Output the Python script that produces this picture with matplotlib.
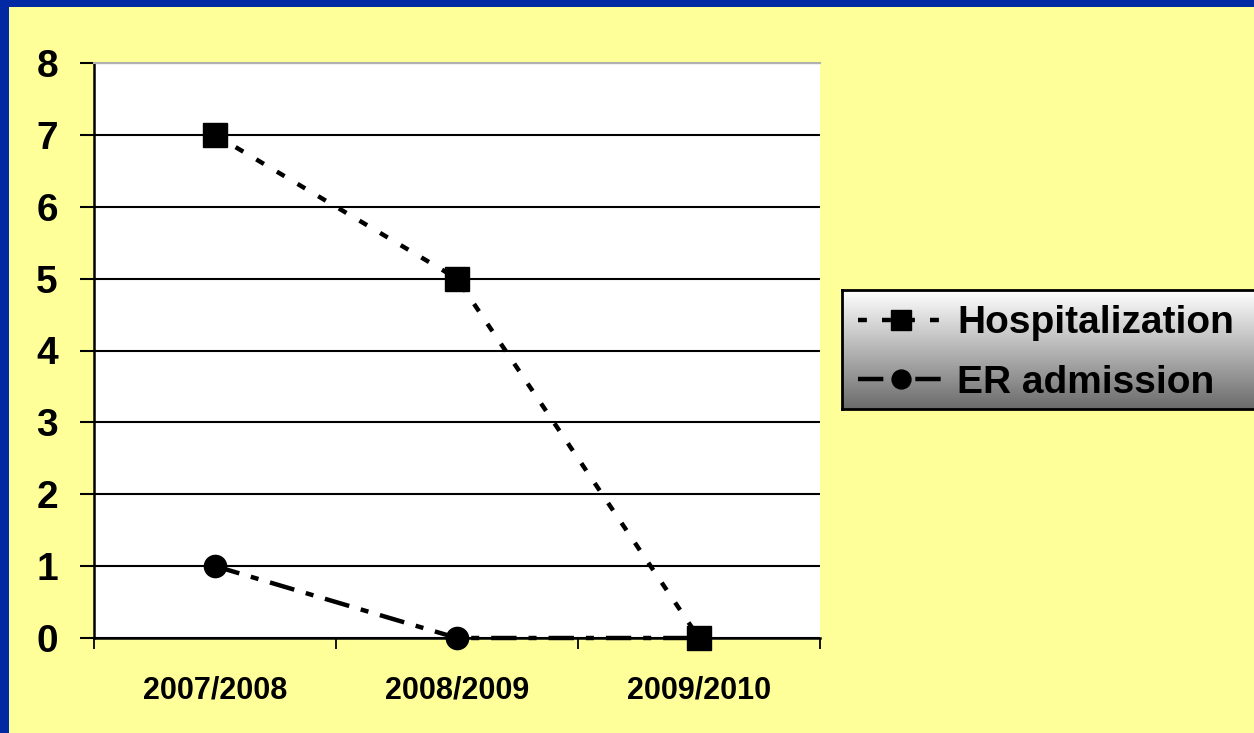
import numpy as np
import matplotlib
matplotlib.use('Agg')
from matplotlib import pyplot as plt
from matplotlib.patches import Rectangle
from matplotlib.ticker import FixedLocator

#
# Data
#
seasons = ['2007/2008', '2008/2009', '2009/2010']
hospitalization = [7, 5, 0]
er_admission = [1, 0, 0]
y_ticks = [0, 1, 2, 3, 4, 5, 6, 7, 8]

BLUE = '#0029A3'
YELLOW = '#FFFF99'

plt.rcParams['font.family'] = ['Liberation Sans', 'DejaVu Sans']
plt.rcParams['font.weight'] = 'bold'

fig = plt.figure(figsize=(12.54, 7.33), dpi=100)
fig.patch.set_facecolor(BLUE)
fig.patches.append(Rectangle((9 / 1254, 0), 1, (733 - 7) / 733,
                             transform=fig.transFigure, facecolor=YELLOW,
                             edgecolor='none', zorder=-5))

ax = fig.add_axes([94 / 1254, 95 / 733, 726 / 1254, 575 / 733])
ax.set_facecolor('white')
x = np.arange(len(seasons))

ax.plot(x, er_admission, color='black', lw=3.2, dashes=(5.7, 2.7, 1.8, 2.7),
        marker='o', markersize=16, label='ER admission', zorder=3,
        clip_on=False)
ax.plot(x, hospitalization, color='black', lw=3.2, dashes=(2.0, 3.4),
        marker='s', markersize=17, label='Hospitalization', zorder=4,
        clip_on=False)

ax.set_xlim(-0.5, 2.5)
ax.set_ylim(0, 8)
ax.set_yticks(y_ticks)
ax.set_yticklabels([str(v) for v in y_ticks], fontsize=28, fontweight='bold')
ax.set_xticks(x)
ax.set_xticklabels(seasons, fontsize=22, fontweight='bold')
ax.xaxis.set_minor_locator(FixedLocator([-0.5, 0.5, 1.5, 2.5]))
ax.tick_params(axis='x', which='major', length=0, pad=27)
ax.tick_params(axis='x', which='minor', length=8, width=1.3, direction='out')
ax.tick_params(axis='y', length=10, width=1.5, pad=16, direction='out')
ax.grid(axis='y', color='black', lw=1.5, zorder=1)

ax.spines['left'].set_linewidth(1.8)
ax.spines['bottom'].set_linewidth(1.8)
ax.spines['right'].set_visible(False)
ax.spines['top'].set_color('#b0b0b0')
ax.spines['top'].set_linewidth(1.5)

#
# Legend with gradient background
#
lax = fig.add_axes([842 / 1254, (733 - 409) / 733, 420 / 1254, 119 / 733])
grad = np.linspace(1.0, 0.42, 256).reshape(-1, 1)
lax.imshow(grad, cmap='gray', vmin=0, vmax=1, aspect='auto',
           extent=(0, 1, 0, 1))
lax.set_xticks([])
lax.set_yticks([])
for s in lax.spines.values():
    s.set_linewidth(2)
    s.set_color('black')

handles, labels = ax.get_legend_handles_labels()
leg = lax.legend(handles[::-1], labels[::-1], loc='center left',
                 bbox_to_anchor=(16 / 420, 0.47), frameon=False,
                 prop={'size': 28, 'weight': 'bold'},
                 handlelength=2.2, handletextpad=0.35, labelspacing=0.6,
                 markerscale=0.85, borderpad=0, borderaxespad=0)

fig.savefig('out.png', dpi=100, facecolor=fig.get_facecolor())
